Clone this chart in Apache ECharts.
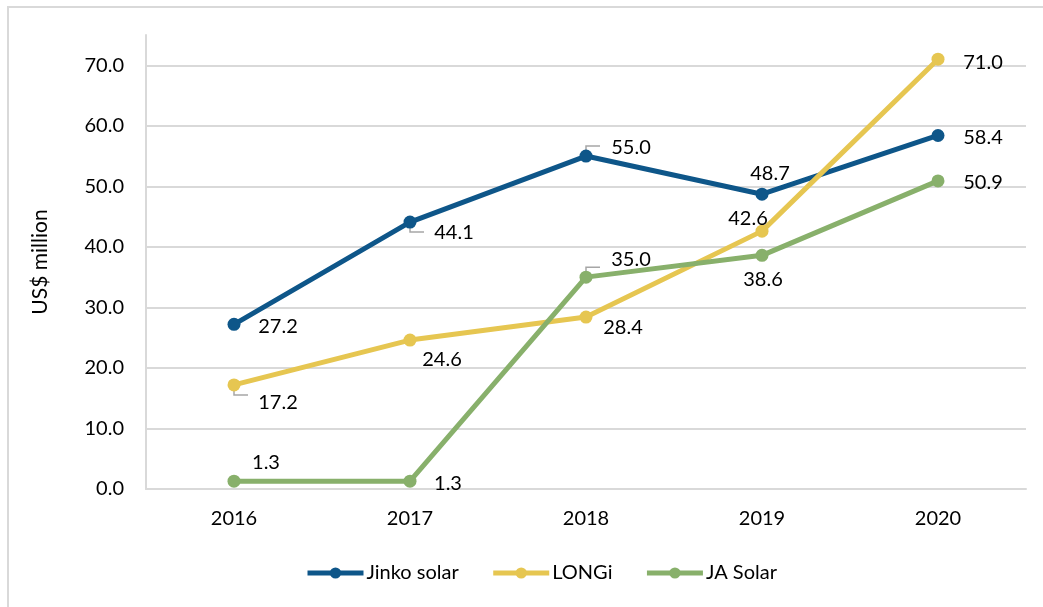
<!DOCTYPE html>
<html>
<head>
<meta charset="utf-8">
<script src="https://cdn.jsdelivr.net/npm/echarts@6/dist/echarts.min.js"></script>
<style>
  html, body { margin: 0; padding: 0; background: #fff; overflow: hidden; }
  #frame { position: absolute; left: 7px; top: 6px; width: 1100px; height: 700px; border: 2px solid #d9d9d9; box-sizing: border-box; }
  #chart { position: absolute; left: 0; top: 0; width: 1043px; height: 607px; }
</style>
</head>
<body>
<div id="frame"></div>
<div id="chart"></div>
<script>
// 数据
const years = ['2016', '2017', '2018', '2019', '2020']
const jinko = [27.2, 44.1, 55.0, 48.7, 58.4]
const longi = [17.2, 24.6, 28.4, 42.6, 71.0]
const jaSolar = [1.3, 1.3, 35.0, 38.6, 50.9]

const font = 'Lato, "Open Sans", sans-serif'

// label placement per point: [dx, dy, leader line]
const jinkoPos = [[44, 2, false], [44, 10, true], [45, -9, true], [8, -21, false], [45, 2, false]]
const longiPos = [[44, 18, true], [32, 19, false], [37, 10, false], [-14, -13, false], [45, 3, false]]
const jaPos = [[32, -19, false], [38, 2, false], [45, -18, true], [1, 24, false], [45, 2, false]]

function makeData (values, pos) {
  return values.map((v, i) => ({
    value: v,
    label: { offset: [pos[i][0], pos[i][1]] }
  }))
}

function makeSeries (name, values, pos, color) {
  return {
    name: name,
    type: 'line',
    data: makeData(values, pos),
    symbol: 'circle',
    symbolSize: 13,
    lineStyle: { width: 5, color: color },
    itemStyle: { color: color },
    z: 3,
    label: {
      show: true,
      position: 'inside',
      color: '#000',
      fontFamily: font,
      fontSize: 20,
      formatter: p => p.value.toFixed(1)
    },
    emphasis: { disabled: true }
  }
}

// 引线 (elbow leader lines next to some labels)
function leaderLines (seriesIdx, pos) {
  const out = []
  pos.forEach((p, i) => {
    if (!p[2]) return
    out.push({ seriesIndex: seriesIdx, dataIndex: i, up: p[1] < 0 })
  })
  return out
}
const leaders = [].concat(leaderLines(0, jinkoPos), leaderLines(1, longiPos), leaderLines(2, jaPos))
const allSeries = [jinko, longi, jaSolar]

const chart = echarts.init(document.getElementById('chart'))
chart.setOption({
  animation: false,
  grid: { left: 146, right: 17, top: 35, bottom: 118 },
  legend: {
    bottom: 19,
    left: 300,
    itemWidth: 56,
    itemHeight: 14,
    itemGap: 32,
    lineStyle: { width: 5 },
    textStyle: { fontFamily: font, fontSize: 20, color: '#000', padding: [0, 0, 0, -2] },
    data: ['Jinko solar', 'LONGi', 'JA Solar']
  },
  xAxis: {
    type: 'category',
    data: years,
    boundaryGap: true,
    axisLine: { lineStyle: { color: '#d9d9d9', width: 2 } },
    axisTick: { show: false },
    axisLabel: { color: '#000', fontFamily: font, fontSize: 20, margin: 20 }
  },
  yAxis: {
    type: 'value',
    min: 0,
    max: 75,
    interval: 10,
    name: 'US$ million',
    nameLocation: 'middle',
    nameGap: 95,
    nameRotate: 90,
    nameTextStyle: { color: '#000', fontFamily: font, fontSize: 21 },
    axisLine: { show: true, lineStyle: { color: '#d9d9d9', width: 2 } },
    axisTick: { show: false },
    axisLabel: {
      color: '#000',
      fontFamily: font,
      fontSize: 20,
      margin: 22,
      showMaxLabel: false,
      formatter: v => (v % 10 === 0 ? v.toFixed(1) : '')
    },
    splitLine: { showMaxLine: false, lineStyle: { color: '#d9d9d9', width: 2 } }
  },
  series: [
    makeSeries('Jinko solar', jinko, jinkoPos, '#0e5689'),
    makeSeries('LONGi', longi, longiPos, '#e6c651'),
    makeSeries('JA Solar', jaSolar, jaPos, '#88b06b')
  ]
})

// draw leader lines from the point's pixel position
chart.setOption({
  graphic: leaders.map(l => {
    const pt = chart.convertToPixel({ gridIndex: 0 }, [l.dataIndex, allSeries[l.seriesIndex][l.dataIndex]])
    const s = l.up ? -1 : 1
    return {
      type: 'polyline',
      z: 2,
      shape: { points: [[pt[0], pt[1]], [pt[0], pt[1] + s * 10], [pt[0] + 14, pt[1] + s * 10]] },
      style: { stroke: '#a6a6a6', lineWidth: 1.5, fill: null }
    }
  })
})
</script>
</body>
</html>
